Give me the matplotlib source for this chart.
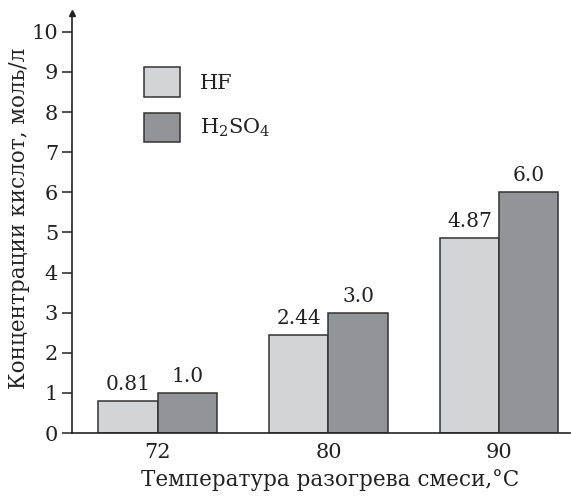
import numpy as np
import matplotlib
matplotlib.use('Agg')
import matplotlib.pyplot as plt

# data
temps = ['72', '80', '90']
hf = [0.81, 2.44, 4.87]
h2so4 = [1.0, 3.0, 6.0]
hf_labels = ['0.81', '2.44', '4.87']
h2so4_labels = ['1.0', '3.0', '6.0']
y_ticks = list(range(0, 11))

plt.rcParams['font.family'] = ['DejaVu Serif']
plt.rcParams['mathtext.default'] = 'regular'
ink = '#222222'

fig = plt.figure(figsize=(5.71, 4.96), dpi=100)
ax = fig.add_axes([0.1261, 0.127, 0.872, 0.847])

x = np.arange(len(temps))
w = 0.348
b1 = ax.bar(x - w / 2, hf, w, color='#d3d4d6', edgecolor='#333333',
            linewidth=1.1, label='HF')
b2 = ax.bar(x + w / 2, h2so4, w, color='#939498', edgecolor='#333333',
            linewidth=1.1, label='$H_2SO_4$')

ax.bar_label(b1, labels=hf_labels, padding=5, fontsize=14.5, color=ink)
ax.bar_label(b2, labels=h2so4_labels, padding=5, fontsize=14.5, color=ink)

ax.set_xlim(-0.503, 2.415)
ax.set_ylim(0, 10.47)
ax.set_yticks(y_ticks)
ax.set_xticks(x)
ax.set_xticklabels(temps)

for s in ['top', 'right']:
    ax.spines[s].set_visible(False)
for s in ['left', 'bottom']:
    ax.spines[s].set_color(ink)
    ax.spines[s].set_linewidth(1.2)

ax.tick_params(axis='y', direction='out', length=7, width=1.1, colors=ink,
               labelsize=15, pad=3)
ax.tick_params(axis='x', length=0, colors=ink, labelsize=15, pad=7)

# small arrow head on top of y axis
ax.plot(0, 1, marker='^', color=ink, markersize=4, transform=ax.transAxes,
        clip_on=False)

ax.set_xlabel('Температура разогрева смеси,°C', fontsize=15.5, color=ink,
              labelpad=5)
ax.xaxis.label.set_x(0.518)
ax.set_ylabel('Концентрации кислот, моль/л', fontsize=15.5, color=ink,
              labelpad=1)
ax.yaxis.label.set_y(0.51)

leg = ax.legend(loc='upper left', bbox_to_anchor=(0.1446, 0.871),
                frameon=False, fontsize=15, handlelength=1.73,
                handleheight=1.8, labelspacing=0.77, handletextpad=0.95,
                borderpad=0, borderaxespad=0)
for t in leg.get_texts():
    t.set_color(ink)

fig.savefig('out.png', dpi=100)
